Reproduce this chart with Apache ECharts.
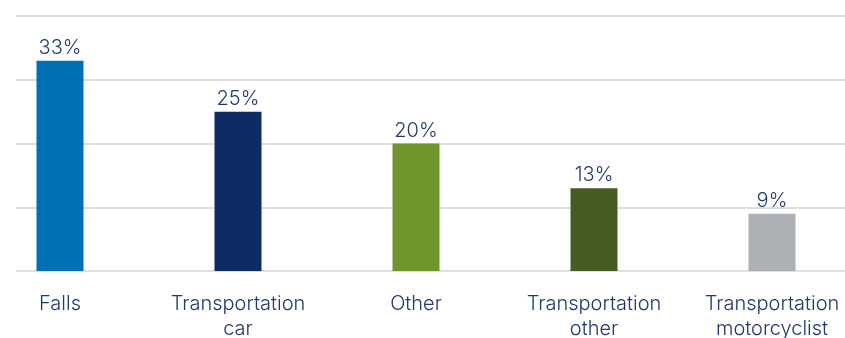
<!DOCTYPE html>
<html>
<head>
<meta charset="utf-8">
<script src="https://cdn.jsdelivr.net/npm/echarts@6/dist/echarts.min.js"></script>
<style>
  html, body { margin: 0; padding: 0; background: #ffffff; }
  #chart { width: 845px; height: 338px; }
</style>
</head>
<body>
<div id="chart"></div>
<script>
// Share of injuries by cause (%)
const categories = ['Falls', 'Transportation car', 'Other', 'Transportation other', 'Transportation motorcyclist'];
const values = [33, 25, 20, 13, 9];
const barColors = ['#006fb5', '#0e2b63', '#6e962c', '#465b21', '#adb1b5'];
const yTicks = [0, 10, 20, 30, 40];

const textColor = '#24396b';
const fontFamily = 'Inter, "Liberation Sans", Arial, sans-serif';
const fontWeight = 300;

const chart = echarts.init(document.getElementById('chart'), null, { renderer: 'canvas' });

chart.setOption({
  animation: false,
  backgroundColor: '#ffffff',
  grid: [
    // horizontal rules across the full width
    { left: 16, right: 0, top: 16, bottom: 67, containLabel: false, outerBoundsMode: 'none' },
    // bars and category labels
    { left: 60, right: 73, top: 16, bottom: 67, containLabel: false, outerBoundsMode: 'none' }
  ],
  xAxis: [
    { type: 'category', gridIndex: 0, data: categories, show: false },
    {
      type: 'category',
      gridIndex: 1,
      data: categories,
      boundaryGap: false,
      axisLine: { show: false },
      axisTick: { show: false },
      axisLabel: {
        margin: 20,
        color: textColor,
        fontFamily: fontFamily,
        fontWeight: fontWeight,
        fontSize: 20,
        lineHeight: 25,
        interval: 0,
        formatter: v => v.replace(' ', '\n')
      }
    }
  ],
  yAxis: [
    {
      type: 'value',
      gridIndex: 0,
      min: yTicks[0],
      max: yTicks[yTicks.length - 1],
      interval: yTicks[1] - yTicks[0],
      axisLine: { show: false },
      axisTick: { show: false },
      axisLabel: { show: false },
      splitLine: { show: true, lineStyle: { color: '#d4d4d4', width: 1.6 } }
    },
    {
      type: 'value',
      gridIndex: 1,
      min: yTicks[0],
      max: yTicks[yTicks.length - 1],
      interval: yTicks[1] - yTicks[0],
      show: false
    }
  ],
  series: [
    {
      type: 'bar',
      xAxisIndex: 1,
      yAxisIndex: 1,
      barWidth: 47,
      data: values.map((v, i) => ({ value: v, itemStyle: { color: barColors[i] } })),
      label: {
        show: true,
        position: 'top',
        distance: 3,
        color: textColor,
        fontFamily: fontFamily,
        fontWeight: fontWeight,
        fontSize: 20,
        formatter: p => p.value + '%'
      }
    }
  ]
});
</script>
</body>
</html>
